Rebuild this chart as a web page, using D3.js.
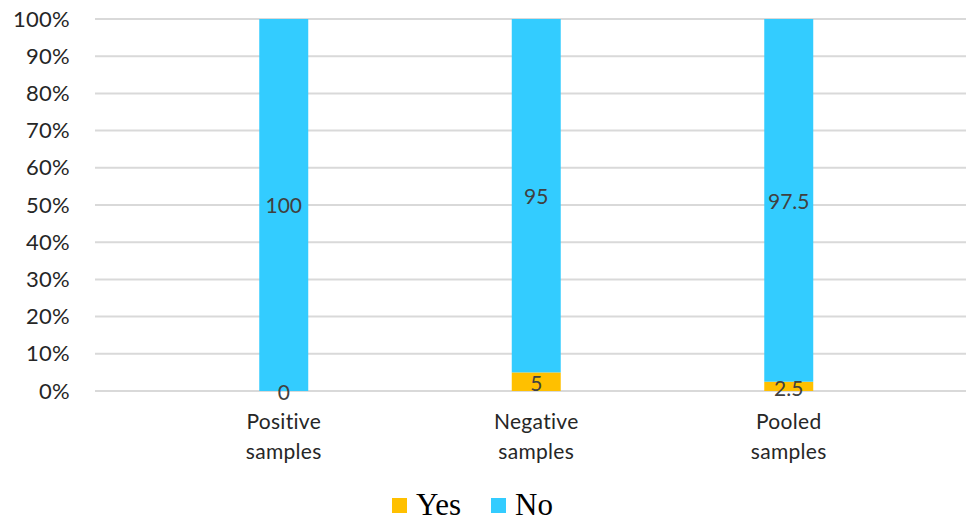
<!DOCTYPE html>
<html><head><meta charset="utf-8">
<script src="https://cdn.jsdelivr.net/npm/d3@7"></script>
<style>body{margin:0;background:#fff}svg{display:block}</style>
</head><body>
<svg id="c" width="966" height="522"></svg>
<script>
const categories = [["Positive","samples"],["Negative","samples"],["Pooled","samples"]];
const catKeys = ["Positive samples","Negative samples","Pooled samples"];
const yesValues = [0, 5, 2.5];
const noValues = [100, 95, 97.5];
const yesLabels = ["0","5","2.5"];
const noLabels = ["100","95","97.5"];
const yTicks = [0,10,20,30,40,50,60,70,80,90,100];
const seriesNames = ["Yes","No"];
const colors = {Yes:"#FFC000", No:"#33CCFF"};

const svg = d3.select("#c");
const font = "Lato, 'Open Sans', sans-serif";
const y = d3.scaleLinear().domain([0,100]).range([391,19]);
const x = d3.scaleBand().domain(catKeys).range([157.5,915]).paddingInner(0.806).paddingOuter(0.403);

// gridlines
svg.append("g").selectAll("line").data(yTicks).join("line")
  .attr("x1",95).attr("x2",966)
  .attr("y1",d=>y(d)).attr("y2",d=>y(d))
  .attr("stroke","#d9d9d9").attr("stroke-width",2);

// y axis labels
const yAxis = d3.axisLeft(y).tickValues(yTicks).tickFormat(d=>d+"%").tickSize(0).tickPadding(0);
const ga = svg.append("g").attr("transform","translate(70,0)").call(yAxis);
ga.select(".domain").remove();
ga.selectAll("text").attr("font-family",font).attr("font-size",22).attr("letter-spacing","0.3px").attr("fill","#262626");

const data = catKeys.map((k,i)=>({k, yes:yesValues[i], no:noValues[i], yl:yesLabels[i], nl:noLabels[i]}));

// bars
const g = svg.append("g");
g.selectAll("rect.yes").data(data).join("rect").attr("class","yes")
  .attr("x",d=>x(d.k)).attr("width",x.bandwidth())
  .attr("y",d=>y(d.yes)).attr("height",d=>y(0)-y(d.yes))
  .attr("fill",colors.Yes);
g.selectAll("rect.no").data(data).join("rect").attr("class","no")
  .attr("x",d=>x(d.k)).attr("width",x.bandwidth())
  .attr("y",d=>y(d.yes+d.no)).attr("height",d=>y(d.yes)-y(d.yes+d.no))
  .attr("fill",colors.No);

// data labels
g.selectAll("text.nl").data(data).join("text").attr("class","nl")
  .attr("x",d=>x(d.k)+x.bandwidth()/2)
  .attr("y",d=>(y(d.yes)+y(d.yes+d.no))/2 + 1)
  .attr("dy","0.35em").attr("text-anchor","middle")
  .attr("font-family",font).attr("font-size",21).attr("fill","#404040")
  .text(d=>d.nl);
g.selectAll("text.yl").data(data).join("text").attr("class","yl")
  .attr("x",d=>x(d.k)+x.bandwidth()/2)
  .attr("y",d=>(y(0)+y(d.yes))/2 + 2)
  .attr("dy","0.35em").attr("text-anchor","middle")
  .attr("font-family",font).attr("font-size",21).attr("fill","#404040")
  .text(d=>d.yl);

// category labels
const cl = svg.append("g").selectAll("text").data(catKeys).join("text")
  .attr("x",d=>x(d)+x.bandwidth()/2).attr("y",429)
  .attr("text-anchor","middle").attr("font-family",font).attr("font-size",21).attr("letter-spacing","0.3px").attr("fill","#262626");
cl.each(function(d,i){
  const t = d3.select(this);
  categories[i].forEach((line,j)=>{
    t.append("tspan").attr("x",x(d)+x.bandwidth()/2).attr("dy", j===0?0:30).text(line);
  });
});

// legend
const legendX = [392, 491];
const lg = svg.append("g");
seriesNames.forEach((s,i)=>{
  lg.append("rect").attr("x",legendX[i]).attr("y",498).attr("width",15).attr("height",15).attr("fill",colors[s]);
  lg.append("text").attr("x",legendX[i]+24).attr("y",515)
    .attr("font-family","'Liberation Serif','DejaVu Serif',serif").attr("font-size",31).attr("fill","#000")
    .text(s);
});
</script>
</body></html>
